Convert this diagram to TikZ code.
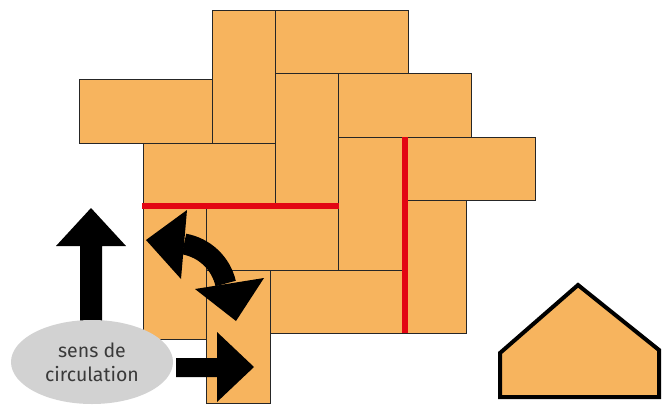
\documentclass[tikz,border=0pt]{standalone}
\usepackage{fontspec}
\newfontfamily\labfont{Fira Sans}
\usetikzlibrary{shapes.geometric}
\definecolor{brickfill}{HTML}{F7B45E}
\definecolor{redline}{HTML}{E30613}
\definecolor{ellgray}{HTML}{D2D2D2}
\definecolor{txtgray}{HTML}{3A3A3A}
\tikzset{
  brick/.style={draw=black!85, line width=0.9pt, fill=brickfill},
  redjoint/.style={draw=redline, line width=5.5pt},
  bigarrow/.style={fill=black, draw=none},
}
\begin{document}
\begin{tikzpicture}[x=1pt,y=-1pt]
\useasboundingbox (0,0) rectangle (669,405);
% bricks
\draw[brick] (212,10) rectangle (275,143);
\draw[brick] (275,10) rectangle (408,73);
\draw[brick] (79,79) rectangle (212,143);
\draw[brick] (275,73) rectangle (338,206);
\draw[brick] (338,73) rectangle (471,137);
\draw[brick] (143,143) rectangle (275,206);
\draw[brick] (338,137) rectangle (404,270);
\draw[brick] (404,137) rectangle (535,200);
\draw[brick] (143,206) rectangle (206,339);
\draw[brick] (206,206) rectangle (338,270);
\draw[brick] (206,270) rectangle (270,403);
\draw[brick] (270,270) rectangle (404,333);
\draw[brick] (404,200) rectangle (466,333);
% red joints
\draw[redjoint] (142,206) -- (339,206);
\draw[redjoint] (405,137) -- (405,333);
% up arrow
\fill[bigarrow] (80,335) -- (80,246) -- (56,246) -- (91,208) -- (126,246) -- (102,246) -- (102,335) -- cycle;
% right arrow
\fill[bigarrow] (176,358) -- (217,358) -- (217,332) -- (254,367) -- (217,402) -- (217,377) -- (176,377) -- cycle;
% curved double arrow
\draw[line width=21pt] (184,244) arc[start angle=-80, end angle=-13, radius=52];
\fill[bigarrow] (146,240) -- (187,210) -- (181,279) -- cycle;
\fill[bigarrow] (236,321) -- (195,289) -- (264,278) -- cycle;
% label
\node[ellipse, fill=ellgray, minimum width=162pt, minimum height=84pt, inner sep=0pt,
      align=center, text=txtgray, font=\labfont\fontsize{19.5}{24}\selectfont] (sens) at (92,362) {sens de\\circulation};
% house
\draw[line width=4pt, fill=brickfill, line join=miter] (500,397) -- (500,353) -- (578,285) -- (659,350) -- (659,397) -- cycle;
\end{tikzpicture}
\end{document}
